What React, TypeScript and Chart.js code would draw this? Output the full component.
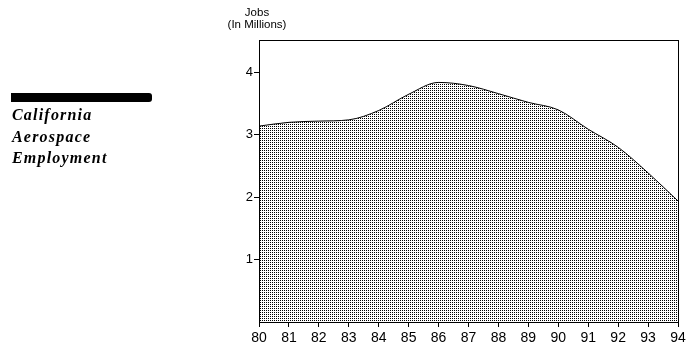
import React, { useEffect, useRef } from "react";
import { Chart, registerables } from "chart.js";

Chart.register(...registerables);

const years = ["80", "81", "82", "83", "84", "85", "86", "87", "88", "89", "90", "91", "92", "93", "94"];
const jobs = [3.14, 3.2, 3.22, 3.24, 3.39, 3.65, 3.84, 3.79, 3.66, 3.52, 3.4, 3.09, 2.8, 2.39, 1.94];
const yTicks = [1, 2, 3, 4];
const titleLines = ["California", "Aerospace", "Employment"];
const axisTitle = ["Jobs", "(In Millions)"];

const boxPlugin = {
  id: "box",
  afterDraw(chart: any) {
    const { ctx, chartArea } = chart;
    ctx.save();
    ctx.strokeStyle = "#000";
    ctx.lineWidth = 1;
    ctx.strokeRect(
      Math.round(chartArea.left) + 0.5,
      Math.round(chartArea.top) + 0.5,
      Math.round(chartArea.right - chartArea.left),
      Math.round(chartArea.bottom - chartArea.top)
    );
    ctx.restore();
  },
};

export default function App() {
  const ref = useRef<HTMLCanvasElement>(null);
  useEffect(() => {
    const pc = document.createElement("canvas");
    pc.width = 2;
    pc.height = 2;
    const pctx = pc.getContext("2d")!;
    pctx.fillStyle = "#fff";
    pctx.fillRect(0, 0, 2, 2);
    pctx.fillStyle = "#000";
    pctx.fillRect(0, 0, 1, 1);
    const ctx = ref.current!.getContext("2d")!;
    const pattern = ctx.createPattern(pc, "repeat");

    const chart = new Chart(ref.current!, {
      type: "line",
      data: {
        labels: years,
        datasets: [
          {
            data: jobs,
            borderColor: "#000",
            borderWidth: 1,
            backgroundColor: pattern as any,
            fill: "origin",
            pointRadius: 0,
            cubicInterpolationMode: "monotone",
          },
        ],
      },
      options: {
        animation: false,
        responsive: false,
        maintainAspectRatio: false,
        layout: { padding: { left: 200, top: 40, right: 20, bottom: 0 } },
        plugins: { legend: { display: false }, tooltip: { enabled: false }, title: { display: false } },
        scales: {
          x: {
            offset: false,
            grid: { drawOnChartArea: false, drawTicks: true, tickLength: 5, color: "#000" },
            border: { display: true, color: "#000" },
            ticks: {
              color: "#000",
              font: { family: "Liberation Sans", size: 14 },
              padding: 3,
              maxRotation: 0,
              autoSkip: false,
            },
            afterFit(scale: any) {
              scale.height = 31;
            },
          },
          y: {
            min: 0,
            max: 4.52,
            grid: { drawOnChartArea: false, drawTicks: true, tickLength: 5, color: "#000" },
            border: { display: true, color: "#000" },
            ticks: {
              color: "#000",
              font: { family: "Liberation Sans", size: 13 },
              padding: 1,
            },
            afterBuildTicks(scale: any) {
              scale.ticks = yTicks.map((v) => ({ value: v }));
            },
            afterFit(scale: any) {
              scale.width = 59;
            },
          },
        },
      },
      plugins: [boxPlugin],
    });
    return () => chart.destroy();
  }, []);

  return (
    <div style={{ position: "fixed", left: 0, top: 0, width: 698, height: 353, background: "#fff" }}>
      <canvas ref={ref} width={698} height={353} style={{ position: "absolute", left: 0, top: 0 }} />
      <div
        style={{
          position: "absolute",
          left: 200,
          top: 6,
          width: 114,
          textAlign: "center",
          fontFamily: "Liberation Sans",
          fontSize: 11.5,
          lineHeight: "12px",
          color: "#000",
        }}
      >
        {axisTitle.map((t) => (
          <div key={t}>{t}</div>
        ))}
      </div>
      <div
        style={{
          position: "absolute",
          left: 11,
          top: 93,
          width: 141,
          height: 9,
          background: "#000",
          borderRadius: "0 3px 3px 0",
        }}
      />
      <div
        style={{
          position: "absolute",
          left: 12,
          top: 104,
          fontFamily: "Liberation Serif",
          fontStyle: "italic",
          fontWeight: "bold",
          fontSize: 16,
          letterSpacing: 1.2,
          lineHeight: "21.5px",
          color: "#000",
        }}
      >
        {titleLines.map((t) => (
          <div key={t}>{t}</div>
        ))}
      </div>
    </div>
  );
}
